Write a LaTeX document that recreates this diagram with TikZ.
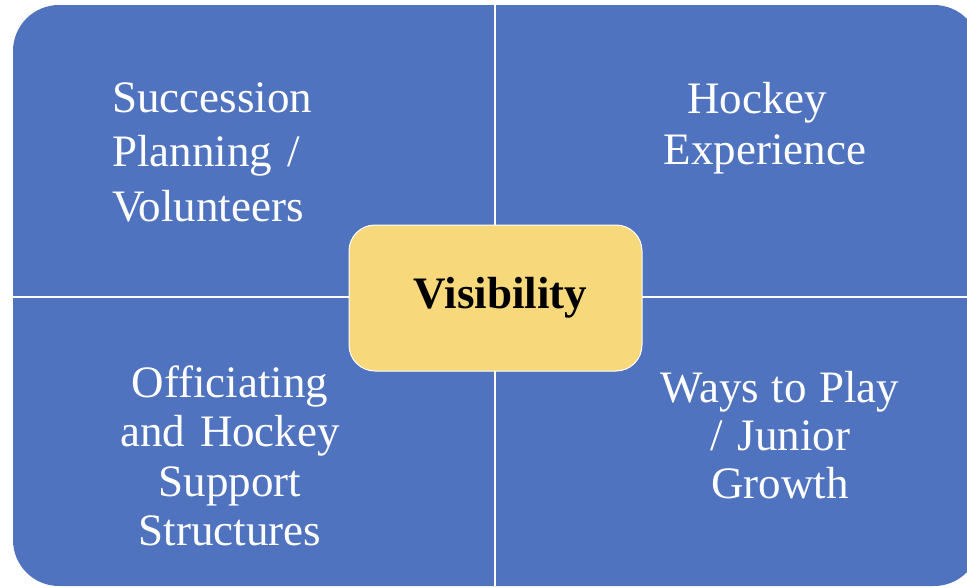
\documentclass[tikz,border=0pt]{standalone}
\usepackage{fontspec}
\setmainfont{Liberation Serif}
\definecolor{quadblue}{HTML}{5073BF}
\definecolor{centeryellow}{HTML}{F7D87A}
\tikzset{
  quadtext/.style={text=white, inner sep=0pt, text width=#1},
  quadtext/.default=260pt,
  divider/.style={draw=white, line width=2pt},
  hub/.style={draw=white, line width=1pt, fill=centeryellow, rounded corners=26pt,
    minimum width=293pt, minimum height=146pt, inner sep=0pt,
    font=\fontsize{45}{54}\selectfont\bfseries, text=black}
}
\begin{document}
\begin{tikzpicture}[x=1pt,y=-1pt]
\useasboundingbox (0,0) rectangle (967,587);
\clip (0,0) rectangle (967,587);
% outer matrix
\fill[quadblue, rounded corners=46pt] (13,5) rectangle (980,586);
% dividers
\coordinate (vtop) at (495,5);
\coordinate (vbot) at (495,586);
\coordinate (hleft) at (13,297);
\coordinate (hright) at (980,297);
\draw[divider] (vtop) -- (vbot);
\draw[divider] (hleft) -- (hright);
% quadrant texts
\node[quadtext, align=left, anchor=base west,
  font=\fontsize{45}{54.5}\selectfont] (tl) at (112,112)
  {Succession\\Planning /\\Volunteers};
\node[quadtext, align=center, anchor=base,
  font=\fontsize{45}{51}\selectfont] (tr) at (765,113)
  {Hockey\rule{16pt}{0pt}\\Experience};
\node[quadtext, align=center, anchor=base,
  font=\fontsize{45}{49.5}\selectfont] (bl) at (230,397)
  {Officiating\\and Hockey\\Support\\Structures};
\node[quadtext, align=center, anchor=base,
  font=\fontsize{45}{48}\selectfont] (br) at (780,402)
  {Ways\hspace{12.5pt}to\hspace{12.5pt}Play\\/ Junior\\Growth};
% center
\node[hub] (hub) at (495.5,298) {\hspace*{10pt}\raisebox{-3pt}{Visibility}};
\end{tikzpicture}
\end{document}
